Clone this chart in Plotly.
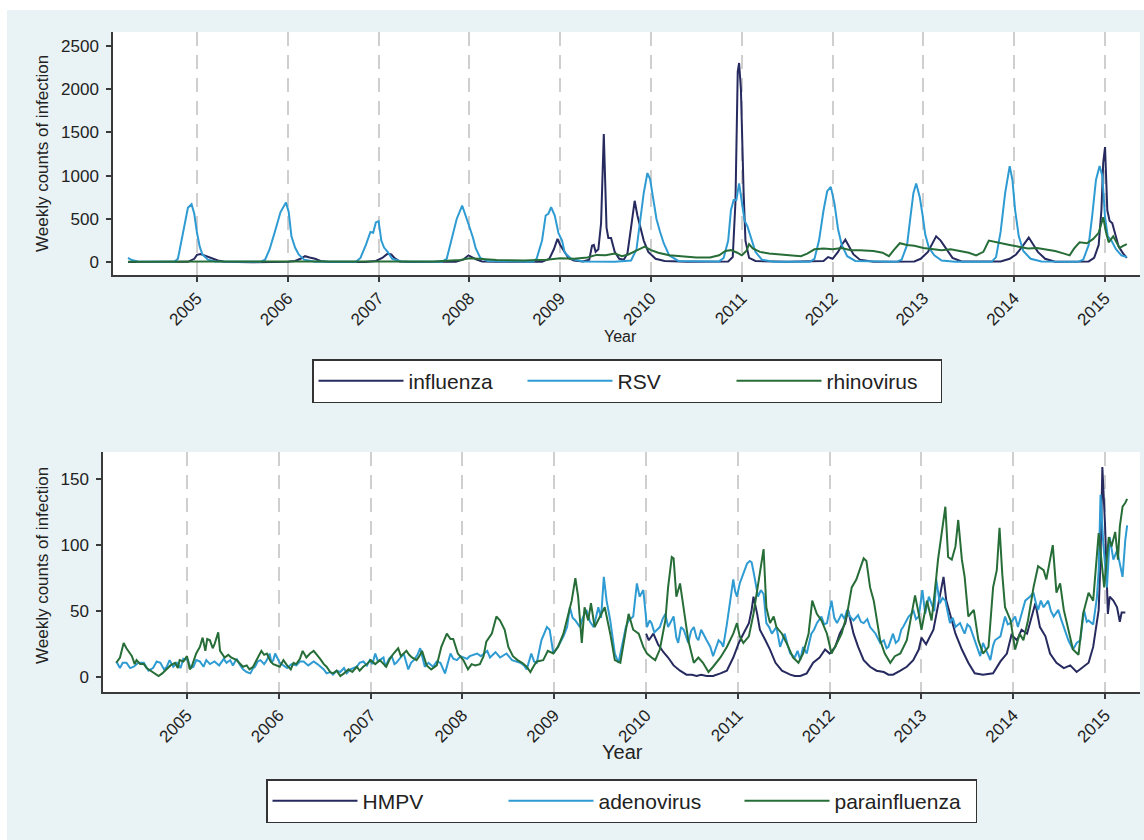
import plotly.graph_objects as go

# Weekly counts as (decimal year, count) pairs.
# Upper panel
INFLUENZA = [
    (2004.24, 2), (2004.6, 0), (2004.9, 5), (2004.97, 40), (2005.0, 85), (2005.04, 95),
    (2005.08, 80), (2005.12, 70), (2005.17, 45), (2005.23, 20), (2005.3, 5), (2005.6, 0),
    (2006.0, 5), (2006.08, 15), (2006.14, 40), (2006.19, 70), (2006.24, 55), (2006.3, 40),
    (2006.36, 15), (2006.45, 3), (2006.85, 3), (2006.97, 15), (2007.04, 50), (2007.1, 100),
    (2007.14, 90), (2007.18, 45), (2007.23, 10), (2007.35, 2), (2007.85, 5), (2007.93, 30),
    (2007.99, 80), (2008.03, 60), (2008.08, 30), (2008.14, 10), (2008.3, 5), (2008.8, 5),
    (2008.88, 40), (2008.93, 150), (2008.97, 270), (2009.0, 200), (2009.04, 140),
    (2009.09, 50), (2009.15, 20), (2009.25, 10), (2009.32, 30), (2009.35, 190),
    (2009.37, 200), (2009.39, 120), (2009.42, 150), (2009.45, 450), (2009.48, 1480),
    (2009.51, 400), (2009.53, 280), (2009.56, 280), (2009.6, 120), (2009.65, 40),
    (2009.7, 30), (2009.74, 100), (2009.78, 400), (2009.82, 710), (2009.85, 540),
    (2009.88, 420), (2009.92, 250), (2009.97, 120), (2010.05, 40), (2010.15, 15),
    (2010.4, 5), (2010.85, 10), (2010.9, 60), (2010.93, 700), (2010.955, 2200),
    (2010.97, 2300), (2010.99, 2000), (2011.02, 800), (2011.04, 250), (2011.08, 50),
    (2011.15, 15), (2011.5, 5), (2011.9, 15), (2011.95, 60), (2012.0, 40), (2012.06, 120),
    (2012.1, 200), (2012.14, 260), (2012.18, 180), (2012.23, 90), (2012.3, 30),
    (2012.45, 5), (2012.9, 10), (2012.97, 40), (2013.05, 120), (2013.1, 230),
    (2013.14, 300), (2013.19, 250), (2013.25, 160), (2013.32, 50), (2013.42, 10),
    (2013.85, 10), (2013.95, 40), (2014.02, 90), (2014.08, 170), (2014.13, 240),
    (2014.16, 285), (2014.2, 220), (2014.26, 120), (2014.34, 40), (2014.45, 5),
    (2014.82, 10), (2014.88, 50), (2014.93, 200), (2014.96, 600), (2014.98, 1150),
    (2015.0, 1330), (2015.025, 600), (2015.05, 480), (2015.08, 450), (2015.11, 320),
    (2015.15, 180), (2015.2, 100), (2015.24, 50),
]
RSV = [
    (2004.24, 50), (2004.28, 25), (2004.35, 10), (2004.75, 5), (2004.79, 40),
    (2004.83, 250), (2004.87, 500), (2004.9, 630), (2004.94, 670), (2004.97, 560),
    (2005.0, 340), (2005.03, 180), (2005.06, 90), (2005.12, 30), (2005.2, 10), (2005.7, 5),
    (2005.75, 30), (2005.8, 150), (2005.86, 360), (2005.92, 580), (2005.98, 690),
    (2006.01, 580), (2006.04, 300), (2006.08, 170), (2006.12, 90), (2006.18, 30),
    (2006.3, 5), (2006.75, 5), (2006.8, 50), (2006.86, 200), (2006.91, 350), (2006.94, 340),
    (2006.97, 460), (2007.0, 475), (2007.03, 250), (2007.06, 170), (2007.1, 120),
    (2007.15, 40), (2007.25, 10), (2007.7, 5), (2007.75, 40), (2007.8, 250), (2007.86, 500),
    (2007.92, 655), (2007.96, 520), (2008.0, 410), (2008.04, 280), (2008.07, 160),
    (2008.12, 50), (2008.2, 15), (2008.7, 5), (2008.74, 40), (2008.8, 250), (2008.84, 540),
    (2008.87, 560), (2008.9, 635), (2008.94, 540), (2008.98, 340), (2009.02, 250),
    (2009.05, 110), (2009.12, 40), (2009.25, 10), (2009.6, 5), (2009.78, 20),
    (2009.84, 150), (2009.88, 450), (2009.92, 800), (2009.96, 1030), (2009.99, 960),
    (2010.02, 760), (2010.06, 500), (2010.1, 350), (2010.14, 220), (2010.2, 80),
    (2010.3, 15), (2010.75, 10), (2010.8, 50), (2010.85, 250), (2010.88, 600),
    (2010.91, 720), (2010.94, 720), (2010.97, 910), (2011.0, 700), (2011.03, 480),
    (2011.06, 420), (2011.1, 280), (2011.15, 120), (2011.22, 30), (2011.35, 5),
    (2011.75, 5), (2011.8, 40), (2011.85, 250), (2011.9, 600), (2011.94, 820),
    (2011.98, 870), (2012.02, 680), (2012.06, 380), (2012.1, 200), (2012.16, 70),
    (2012.25, 15), (2012.7, 5), (2012.76, 30), (2012.82, 200), (2012.86, 550),
    (2012.89, 800), (2012.92, 910), (2012.96, 750), (2012.99, 550), (2013.02, 320),
    (2013.06, 170), (2013.12, 80), (2013.2, 20), (2013.35, 5), (2013.75, 5), (2013.8, 60),
    (2013.85, 350), (2013.9, 800), (2013.95, 1110), (2013.98, 950), (2014.01, 600),
    (2014.05, 300), (2014.1, 130), (2014.18, 40), (2014.3, 10), (2014.7, 5), (2014.76, 30),
    (2014.82, 200), (2014.86, 550), (2014.9, 950), (2014.94, 1110), (2014.97, 1000),
    (2015.0, 520), (2015.03, 300), (2015.07, 250), (2015.12, 150), (2015.18, 80),
    (2015.24, 60),
]
RHINOVIRUS = [
    (2004.24, 5), (2004.5, 8), (2004.8, 5), (2005.2, 10), (2005.5, 8), (2006.0, 10),
    (2006.4, 12), (2006.8, 5), (2007.2, 15), (2007.6, 10), (2007.9, 25), (2008.0, 45),
    (2008.1, 40), (2008.3, 25), (2008.6, 20), (2008.85, 30), (2009.0, 45), (2009.15, 40),
    (2009.3, 55), (2009.4, 85), (2009.5, 80), (2009.55, 90), (2009.6, 100), (2009.68, 70),
    (2009.75, 90), (2009.85, 140), (2009.93, 180), (2010.0, 140), (2010.08, 110),
    (2010.2, 80), (2010.35, 70), (2010.5, 55), (2010.65, 55), (2010.75, 80), (2010.82, 130),
    (2010.88, 140), (2010.95, 110), (2011.0, 80), (2011.05, 130), (2011.08, 210),
    (2011.12, 160), (2011.2, 120), (2011.3, 100), (2011.45, 90), (2011.55, 80),
    (2011.65, 70), (2011.72, 100), (2011.8, 150), (2011.9, 160), (2012.0, 150),
    (2012.1, 165), (2012.2, 140), (2012.3, 140), (2012.45, 130), (2012.55, 110),
    (2012.62, 70), (2012.68, 150), (2012.74, 220), (2012.82, 200), (2012.9, 190),
    (2013.0, 165), (2013.1, 150), (2013.2, 140), (2013.3, 150), (2013.4, 130),
    (2013.5, 110), (2013.58, 80), (2013.66, 120), (2013.72, 250), (2013.8, 230),
    (2013.88, 210), (2013.95, 200), (2014.05, 180), (2014.15, 160), (2014.25, 165),
    (2014.35, 150), (2014.45, 130), (2014.55, 100), (2014.61, 80), (2014.66, 160),
    (2014.72, 230), (2014.8, 220), (2014.87, 270), (2014.93, 340), (2014.98, 520),
    (2015.01, 350), (2015.04, 230), (2015.09, 300), (2015.13, 230), (2015.16, 165),
    (2015.2, 190), (2015.24, 210),
]

# Lower panel
HMPV = [
    (2010.0, 33), (2010.03, 28), (2010.08, 33), (2010.13, 25), (2010.19, 19),
    (2010.24, 15), (2010.3, 9), (2010.37, 5), (2010.44, 2), (2010.5, 2), (2010.55, 1),
    (2010.6, 2), (2010.66, 1), (2010.73, 1), (2010.81, 3), (2010.88, 5), (2010.95, 15),
    (2011.01, 26), (2011.06, 33), (2011.12, 41), (2011.15, 51), (2011.17, 61),
    (2011.21, 48), (2011.24, 36), (2011.3, 28), (2011.35, 21), (2011.41, 11), (2011.48, 5),
    (2011.57, 2), (2011.62, 1), (2011.68, 1), (2011.75, 3), (2011.82, 11), (2011.89, 15),
    (2011.95, 21), (2012.0, 18), (2012.06, 23), (2012.11, 33), (2012.17, 41), (2012.2, 51),
    (2012.26, 33), (2012.31, 23), (2012.37, 13), (2012.44, 8), (2012.51, 5), (2012.59, 4),
    (2012.64, 2), (2012.69, 2), (2012.77, 5), (2012.84, 8), (2012.91, 13), (2012.97, 21),
    (2013.0, 30), (2013.05, 25), (2013.13, 36), (2013.18, 53), (2013.24, 76),
    (2013.27, 58), (2013.31, 48), (2013.37, 33), (2013.44, 21), (2013.51, 11),
    (2013.58, 3), (2013.67, 2), (2013.78, 3), (2013.86, 12), (2013.93, 18), (2013.98, 32),
    (2014.04, 28), (2014.09, 36), (2014.15, 33), (2014.2, 46), (2014.24, 56), (2014.29, 38),
    (2014.35, 31), (2014.4, 18), (2014.47, 11), (2014.55, 7), (2014.62, 9), (2014.69, 4),
    (2014.75, 7), (2014.82, 11), (2014.87, 23), (2014.93, 51), (2014.95, 89),
    (2014.97, 159), (2015.0, 114), (2015.03, 48), (2015.05, 61), (2015.09, 58),
    (2015.13, 53), (2015.16, 42), (2015.18, 49), (2015.22, 49),
]
ADENOVIRUS = [
    (2004.23, 12), (2004.27, 7), (2004.3, 11), (2004.34, 11), (2004.38, 7), (2004.42, 8),
    (2004.47, 11), (2004.53, 11), (2004.58, 5), (2004.63, 7), (2004.67, 12), (2004.71, 11),
    (2004.75, 6), (2004.78, 8), (2004.81, 13), (2004.85, 8), (2004.89, 11), (2004.93, 7),
    (2004.96, 14), (2005.01, 13), (2005.04, 7), (2005.07, 8), (2005.1, 13), (2005.14, 12),
    (2005.18, 8), (2005.21, 13), (2005.25, 10), (2005.3, 12), (2005.35, 9), (2005.4, 14),
    (2005.43, 11), (2005.47, 13), (2005.5, 9), (2005.54, 14), (2005.58, 9), (2005.61, 6),
    (2005.65, 4), (2005.69, 3), (2005.72, 7), (2005.74, 8), (2005.77, 12), (2005.8, 13),
    (2005.84, 10), (2005.87, 13), (2005.9, 18), (2005.92, 11), (2005.94, 13), (2005.96, 18),
    (2006.01, 11), (2006.05, 9), (2006.09, 7), (2006.14, 10), (2006.19, 9), (2006.23, 12),
    (2006.27, 12), (2006.32, 9), (2006.38, 12), (2006.42, 10), (2006.45, 8), (2006.49, 6),
    (2006.52, 3), (2006.56, 4), (2006.59, 2), (2006.63, 5), (2006.67, 4), (2006.71, 7),
    (2006.74, 3), (2006.78, 6), (2006.85, 8), (2006.88, 11), (2006.92, 12), (2006.96, 9),
    (2006.99, 13), (2007.02, 10), (2007.05, 18), (2007.08, 12), (2007.1, 13), (2007.14, 15),
    (2007.16, 8), (2007.2, 14), (2007.23, 16), (2007.26, 10), (2007.28, 11), (2007.32, 15),
    (2007.36, 18), (2007.41, 6), (2007.44, 11), (2007.47, 13), (2007.51, 17), (2007.54, 22),
    (2007.57, 12), (2007.59, 8), (2007.63, 11), (2007.68, 8), (2007.72, 12), (2007.76, 11),
    (2007.81, 3), (2007.84, 10), (2007.87, 18), (2007.9, 14), (2007.94, 13), (2007.98, 16),
    (2008.01, 15), (2008.05, 14), (2008.08, 16), (2008.12, 17), (2008.16, 18), (2008.2, 16),
    (2008.23, 18), (2008.27, 20), (2008.3, 15), (2008.36, 19), (2008.41, 15), (2008.45, 17),
    (2008.48, 18), (2008.54, 13), (2008.58, 12), (2008.63, 11), (2008.67, 9), (2008.7, 6),
    (2008.75, 18), (2008.78, 12), (2008.81, 11), (2008.86, 28), (2008.92, 38),
    (2008.95, 36), (2008.99, 18), (2009.04, 23), (2009.1, 31), (2009.14, 38), (2009.17, 53),
    (2009.2, 45), (2009.23, 43), (2009.28, 38), (2009.31, 45), (2009.35, 51), (2009.39, 42),
    (2009.43, 38), (2009.48, 53), (2009.51, 45), (2009.54, 76), (2009.57, 58), (2009.61, 43),
    (2009.64, 28), (2009.66, 18), (2009.7, 11), (2009.75, 28), (2009.78, 38), (2009.81, 43),
    (2009.86, 46), (2009.9, 71), (2009.93, 61), (2009.97, 66), (2010.01, 38), (2010.04, 43),
    (2010.06, 41), (2010.09, 34), (2010.12, 36), (2010.15, 38), (2010.18, 44), (2010.21, 48),
    (2010.24, 38), (2010.27, 42), (2010.3, 46), (2010.33, 30), (2010.35, 26), (2010.38, 38),
    (2010.41, 36), (2010.44, 30), (2010.46, 26), (2010.49, 35), (2010.52, 38), (2010.55, 30),
    (2010.57, 28), (2010.6, 36), (2010.62, 33), (2010.66, 28), (2010.7, 23), (2010.73, 16),
    (2010.76, 22), (2010.79, 28), (2010.82, 26), (2010.84, 23), (2010.88, 40), (2010.92, 58),
    (2010.95, 74), (2010.97, 65), (2010.99, 61), (2011.02, 71), (2011.06, 79), (2011.1, 86),
    (2011.13, 88), (2011.15, 87), (2011.17, 80), (2011.19, 71), (2011.22, 61), (2011.25, 66),
    (2011.28, 63), (2011.31, 41), (2011.34, 38), (2011.37, 33), (2011.42, 38), (2011.46, 23),
    (2011.49, 30), (2011.51, 33), (2011.54, 25), (2011.57, 18), (2011.62, 15), (2011.65, 20),
    (2011.68, 13), (2011.71, 23), (2011.75, 18), (2011.78, 28), (2011.8, 33), (2011.83, 36),
    (2011.86, 41), (2011.91, 46), (2011.94, 40), (2011.97, 41), (2012.02, 58), (2012.05, 45),
    (2012.08, 41), (2012.13, 48), (2012.16, 44), (2012.19, 51), (2012.22, 46), (2012.26, 43),
    (2012.31, 47), (2012.34, 42), (2012.37, 41), (2012.41, 44), (2012.44, 38), (2012.5, 33),
    (2012.55, 26), (2012.59, 28), (2012.62, 22), (2012.64, 23), (2012.67, 30), (2012.69, 33),
    (2012.72, 26), (2012.75, 28), (2012.78, 36), (2012.8, 38), (2012.83, 42), (2012.86, 46),
    (2012.89, 48), (2012.91, 51), (2012.94, 44), (2012.97, 46), (2013.01, 66), (2013.04, 48),
    (2013.08, 61), (2013.11, 56), (2013.14, 50), (2013.16, 74), (2013.2, 56), (2013.23, 60),
    (2013.26, 58), (2013.31, 41), (2013.34, 45), (2013.37, 38), (2013.42, 41), (2013.45, 36),
    (2013.47, 33), (2013.5, 40), (2013.53, 38), (2013.58, 28), (2013.61, 22), (2013.64, 16),
    (2013.67, 26), (2013.69, 23), (2013.72, 18), (2013.75, 13), (2013.78, 24), (2013.8, 28),
    (2013.86, 31), (2013.91, 46), (2013.94, 40), (2013.97, 41), (2014.02, 46), (2014.05, 38),
    (2014.07, 43), (2014.1, 50), (2014.13, 58), (2014.18, 61), (2014.22, 64), (2014.25, 55),
    (2014.27, 51), (2014.3, 58), (2014.33, 53), (2014.38, 58), (2014.41, 50), (2014.44, 46),
    (2014.49, 51), (2014.52, 44), (2014.55, 38), (2014.6, 28), (2014.65, 21), (2014.69, 26),
    (2014.73, 28), (2014.77, 51), (2014.8, 42), (2014.82, 43), (2014.87, 40), (2014.91, 60),
    (2014.93, 81), (2014.95, 138), (2014.98, 101), (2015.02, 68), (2015.05, 106),
    (2015.09, 89), (2015.13, 96), (2015.16, 86), (2015.19, 76), (2015.22, 104),
    (2015.24, 115),
]
PARAINFLUENZA = [
    (2004.23, 11), (2004.27, 15), (2004.31, 26), (2004.34, 22), (2004.38, 18), (2004.4, 16),
    (2004.43, 10), (2004.45, 13), (2004.49, 10), (2004.53, 10), (2004.56, 7), (2004.6, 5),
    (2004.65, 3), (2004.69, 1), (2004.73, 3), (2004.78, 6), (2004.82, 9), (2004.87, 11),
    (2004.9, 7), (2004.92, 13), (2004.96, 12), (2005.0, 16), (2005.03, 6), (2005.05, 8),
    (2005.1, 18), (2005.14, 23), (2005.17, 30), (2005.2, 20), (2005.22, 29), (2005.25, 28),
    (2005.28, 22), (2005.3, 25), (2005.34, 34), (2005.36, 20), (2005.41, 15), (2005.45, 17),
    (2005.48, 15), (2005.54, 13), (2005.58, 10), (2005.61, 8), (2005.65, 9), (2005.68, 6),
    (2005.72, 8), (2005.76, 13), (2005.81, 20), (2005.84, 17), (2005.87, 18), (2005.91, 12),
    (2005.94, 10), (2006.01, 8), (2006.05, 13), (2006.09, 9), (2006.13, 6), (2006.16, 11),
    (2006.19, 10), (2006.23, 14), (2006.26, 20), (2006.3, 15), (2006.34, 18), (2006.38, 20),
    (2006.42, 17), (2006.45, 14), (2006.49, 10), (2006.52, 8), (2006.56, 4), (2006.59, 3),
    (2006.63, 5), (2006.67, 1), (2006.71, 3), (2006.76, 6), (2006.8, 4), (2006.85, 8),
    (2006.88, 5), (2006.92, 8), (2006.96, 10), (2007.0, 13), (2007.05, 10), (2007.1, 13),
    (2007.17, 8), (2007.21, 14), (2007.25, 18), (2007.3, 22), (2007.33, 16), (2007.36, 18),
    (2007.39, 20), (2007.42, 17), (2007.45, 15), (2007.5, 13), (2007.53, 16), (2007.56, 20),
    (2007.59, 14), (2007.61, 9), (2007.66, 6), (2007.72, 9), (2007.77, 23), (2007.8, 28),
    (2007.83, 33), (2007.87, 29), (2007.9, 29), (2007.95, 18), (2008.01, 13), (2008.06, 6),
    (2008.1, 10), (2008.14, 9), (2008.19, 10), (2008.23, 16), (2008.26, 27), (2008.32, 33),
    (2008.35, 40), (2008.37, 46), (2008.41, 43), (2008.46, 36), (2008.5, 23), (2008.55, 16),
    (2008.6, 13), (2008.65, 11), (2008.7, 8), (2008.74, 4), (2008.78, 9), (2008.81, 12),
    (2008.88, 13), (2008.93, 20), (2008.99, 18), (2009.04, 23), (2009.1, 33), (2009.15, 46),
    (2009.19, 58), (2009.23, 75), (2009.26, 61), (2009.3, 26), (2009.33, 53), (2009.37, 43),
    (2009.4, 56), (2009.44, 38), (2009.5, 46), (2009.55, 53), (2009.61, 33), (2009.66, 13),
    (2009.72, 11), (2009.77, 31), (2009.81, 48), (2009.86, 36), (2009.92, 33), (2009.97, 23),
    (2010.01, 18), (2010.06, 15), (2010.1, 13), (2010.15, 21), (2010.21, 43), (2010.24, 68),
    (2010.28, 91), (2010.3, 90), (2010.33, 61), (2010.37, 71), (2010.41, 51), (2010.46, 28),
    (2010.52, 11), (2010.57, 15), (2010.62, 11), (2010.68, 4), (2010.73, 8), (2010.81, 15),
    (2010.88, 23), (2010.95, 33), (2010.99, 41), (2011.02, 31), (2011.06, 26), (2011.12, 31),
    (2011.17, 48), (2011.21, 68), (2011.24, 79), (2011.28, 97), (2011.31, 53), (2011.35, 41),
    (2011.39, 46), (2011.42, 38), (2011.48, 33), (2011.53, 26), (2011.6, 15), (2011.66, 11),
    (2011.71, 18), (2011.77, 33), (2011.81, 58), (2011.86, 48), (2011.91, 43), (2011.97, 33),
    (2012.02, 18), (2012.08, 26), (2012.13, 33), (2012.19, 48), (2012.24, 68), (2012.29, 74),
    (2012.37, 90), (2012.4, 88), (2012.44, 68), (2012.48, 58), (2012.53, 38), (2012.55, 28),
    (2012.6, 18), (2012.66, 11), (2012.71, 16), (2012.77, 18), (2012.84, 28), (2012.89, 46),
    (2012.93, 62), (2012.97, 48), (2013.0, 36), (2013.06, 58), (2013.11, 43), (2013.15, 68),
    (2013.18, 89), (2013.22, 109), (2013.26, 129), (2013.29, 91), (2013.33, 89),
    (2013.37, 99), (2013.4, 119), (2013.44, 89), (2013.47, 76), (2013.51, 46), (2013.57, 51),
    (2013.62, 28), (2013.67, 18), (2013.73, 23), (2013.78, 68), (2013.82, 81),
    (2013.85, 113), (2013.88, 78), (2013.91, 53), (2013.97, 43), (2014.02, 21), (2014.07, 33),
    (2014.11, 28), (2014.16, 43), (2014.22, 68), (2014.27, 84), (2014.33, 81), (2014.36, 74),
    (2014.4, 89), (2014.43, 100), (2014.47, 64), (2014.51, 71), (2014.55, 51), (2014.6, 36),
    (2014.65, 21), (2014.71, 17), (2014.76, 48), (2014.82, 64), (2014.87, 58),
    (2014.93, 109), (2014.96, 89), (2014.99, 68), (2015.04, 106), (2015.07, 99),
    (2015.11, 110), (2015.14, 89), (2015.16, 114), (2015.19, 129), (2015.22, 132),
    (2015.24, 135),
]

YEAR_TICKS = [2005, 2006, 2007, 2008, 2009, 2010, 2011, 2012, 2013, 2014, 2015]
TOP_Y_TICKS = [0, 500, 1000, 1500, 2000, 2500]
BOTTOM_Y_TICKS = [0, 50, 100, 150]

NAVY = "#262a5e"
SKY = "#2e9bd3"
FOREST = "#276d37"
BG = "#e9f2f4"
INK = "#222222"
AXIS = "#3a3a3a"

W, H = 1144, 840
FONT = "Liberation Sans, Arial, Helvetica, sans-serif"


def px_x(p):
    return p / W


def px_y(p):
    return 1 - p / H


fig = go.Figure()

top = [("influenza", INFLUENZA, NAVY), ("RSV", RSV, SKY), ("rhinovirus", RHINOVIRUS, FOREST)]
bottom = [("HMPV", HMPV, NAVY), ("adenovirus", ADENOVIRUS, SKY), ("parainfluenza", PARAINFLUENZA, FOREST)]

for name, pts, color in top:
    xs, ys = zip(*pts)
    fig.add_scatter(x=xs, y=ys, mode="lines", name=name, xaxis="x", yaxis="y",
                    legend="legend", line=dict(color=color, width=2))
for name, pts, color in bottom:
    xs, ys = zip(*pts)
    fig.add_scatter(x=xs, y=ys, mode="lines", name=name, xaxis="x2", yaxis="y2",
                    legend="legend2", line=dict(color=color, width=2))

xaxis_style = dict(
    tickmode="array", tickvals=YEAR_TICKS, ticktext=[str(y) for y in YEAR_TICKS],
    tickangle=-45, ticks="outside", ticklen=5, tickwidth=1.5, tickcolor=AXIS,
    tickfont=dict(size=17, color=INK), showline=True, linecolor=AXIS, linewidth=1.5,
    showgrid=True, gridcolor="#cfcfcf", gridwidth=2, griddash="14px,9px",
    zeroline=False, automargin=False,
)
yaxis_style = dict(
    tickmode="array", ticks="outside", ticklen=5, tickwidth=1.5, tickcolor=AXIS,
    tickfont=dict(size=17, color=INK), showline=True, linecolor=AXIS, linewidth=1.5,
    showgrid=False, zeroline=False, automargin=False, ticklabelstandoff=4,
)

legend_style = dict(
    orientation="h", xanchor="left", yanchor="top", bgcolor="white",
    bordercolor="#333333", borderwidth=1.5, font=dict(size=21, color=INK),
    itemwidth=85, traceorder="normal",
)

title_font = dict(size=17, color=INK)

fig.update_layout(
    width=W, height=H, margin=dict(l=0, r=0, t=0, b=0),
    paper_bgcolor=BG, plot_bgcolor="white",
    font=dict(family=FONT, size=17, color=INK),
    xaxis=dict(xaxis_style, domain=[px_x(113), px_x(1140)], anchor="y",
               range=[2004.075, 2015.385]),
    yaxis=dict(yaxis_style, domain=[px_y(275), px_y(32)], anchor="x",
               range=[-147, 2658], tickvals=TOP_Y_TICKS),
    xaxis2=dict(xaxis_style, domain=[px_x(103), px_x(1140)], anchor="y2",
                range=[2004.085, 2015.38]),
    yaxis2=dict(yaxis_style, domain=[px_y(692), px_y(452)], anchor="x2",
                range=[-11.1, 170.4], tickvals=BOTTOM_Y_TICKS),
    legend=dict(legend_style, x=px_x(312), y=px_y(359), entrywidth=109),
    legend2=dict(legend_style, x=px_x(266), y=px_y(779), entrywidth=136),
    shapes=[
        dict(type="rect", xref="paper", yref="paper", x0=0, x1=1, y0=px_y(10), y1=1,
             fillcolor="white", line_width=0, layer="below"),
        dict(type="rect", xref="paper", yref="paper", x0=0, x1=px_x(7), y0=0, y1=1,
             fillcolor="white", line_width=0, layer="below"),
    ],
    annotations=[
        dict(text="Weekly counts of infection", x=px_x(42), y=px_y(154), textangle=-90,
             font=title_font),
        dict(text="Weekly counts of infection", x=px_x(42), y=px_y(566), textangle=-90,
             font=title_font),
        dict(text="Year", x=px_x(620), y=px_y(336), font=dict(size=16, color=INK)),
        dict(text="Year", x=px_x(622), y=px_y(752), font=dict(size=20, color=INK)),
    ],
)
fig.update_annotations(xref="paper", yref="paper", xanchor="center", yanchor="middle",
                       showarrow=False)

fig.write_html("out.html", config={"displayModeBar": False},
               post_script="document.body.style.margin='0';")
